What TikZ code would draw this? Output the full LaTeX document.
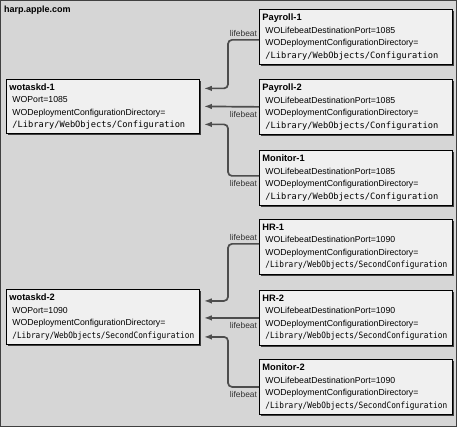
\documentclass[tikz,border=0pt]{standalone}
\usepackage{fontspec}
\setmainfont{Liberation Sans}
\setmonofont{DejaVu Sans Mono}
\newfontfamily\monocond[FakeStretch=0.89]{DejaVu Sans Mono}
\usetikzlibrary{positioning,calc,shadows,arrows.meta}

\definecolor{hostgray}{HTML}{D6D6D6}
\definecolor{boxgray}{HTML}{F0F0F0}
\definecolor{beatgray}{HTML}{4D4D4D}

\newcommand{\boxtitle}[1]{{\bfseries\fontsize{9.3}{12.5}\selectfont #1}}
\newcommand{\ind}{\hspace*{3pt}}

\tikzset{
	procbox/.style={draw=black, fill=boxgray, line width=0.8pt, anchor=north west,
		minimum width=193pt, minimum height=55pt, text width=187pt,
		inner xsep=3pt, inner ysep=2pt, align=left,
		font=\fontsize{8.7}{12.5}\selectfont,
		drop shadow={shadow xshift=2pt, shadow yshift=-2pt, fill=black!75, opacity=1}},
	beat/.style={-{Latex[length=8pt, width=5.5pt]}, draw=beatgray, line width=1.7pt, rounded corners=4pt},
	beatlabel/.style={font=\fontsize{8.4}{9}\selectfont, text=black!80, inner xsep=1.2pt, inner ysep=2pt},
	beatbelow/.style={beatlabel, anchor=north east, inner ysep=3.5pt}
}

\begin{document}
\begin{tikzpicture}[x=1pt, y=-1pt]
	\useasboundingbox (0, 0) rectangle (457, 427);
	\draw[fill=hostgray, draw=black!75, line width=1pt]	(0.5, 0.5) rectangle (456.5, 426.5);
	\node[anchor=base west, inner sep=0pt, font=\bfseries\fontsize{9}{10}\selectfont] (host) at (4, 12.5) {harp.apple.com};

	% wotaskd processes
	\node[procbox, minimum height=54pt] (wo1) at (6, 79) {\boxtitle{wotaskd-1}\\
		\ind WOPort=1085\\
		\ind WODeploymentConfigurationDirectory=\\
		\ind\texttt{/Library/WebObjects/Configuration}};
	\node[procbox] (wo2) at (6, 289) {\boxtitle{wotaskd-2}\\
		\ind WOPort=1090\\
		\ind WODeploymentConfigurationDirectory=\\
		\ind{\monocond /Library/WebObjects/SecondConfiguration}};

	% applications
	\node[procbox] (pay1) at (259, 9) {\boxtitle{Payroll-1}\\
		\ind WOLifebeatDestinationPort=1085\\
		\ind WODeploymentConfigurationDirectory=\\
		\ind\texttt{/Library/WebObjects/Configuration}};
	\node[procbox] (pay2) at (259, 79) {\boxtitle{Payroll-2}\\
		\ind WOLifebeatDestinationPort=1085\\
		\ind WODeploymentConfigurationDirectory=\\
		\ind\texttt{/Library/WebObjects/Configuration}};
	\node[procbox] (mon1) at (259, 150) {\boxtitle{Monitor-1}\\
		\ind WOLifebeatDestinationPort=1085\\
		\ind WODeploymentConfigurationDirectory=\\
		\ind\texttt{/Library/WebObjects/Configuration}};
	\node[procbox] (hr1) at (259, 219) {\boxtitle{HR-1}\\
		\ind WOLifebeatDestinationPort=1090\\
		\ind WODeploymentConfigurationDirectory=\\
		\ind{\monocond /Library/WebObjects/SecondConfiguration}};
	\node[procbox] (hr2) at (259, 290) {\boxtitle{HR-2}\\
		\ind WOLifebeatDestinationPort=1090\\
		\ind WODeploymentConfigurationDirectory=\\
		\ind{\monocond /Library/WebObjects/SecondConfiguration}};
	\node[procbox] (mon2) at (259, 359) {\boxtitle{Monitor-2}\\
		\ind WOLifebeatDestinationPort=1090\\
		\ind WODeploymentConfigurationDirectory=\\
		\ind{\monocond /Library/WebObjects/SecondConfiguration}};

	% lifebeat targets
	\coordinate (wo1a) at ($(wo1.east)+(4, -18)$);
	\coordinate (wo1b) at ($(wo1.east)+(4, 0)$);
	\coordinate (wo1c) at ($(wo1.east)+(4, 18)$);
	\coordinate (wo2a) at ($(wo2.east)+(4, -16)$);
	\coordinate (wo2b) at ($(wo2.east)+(4, 1)$);
	\coordinate (wo2c) at ($(wo2.east)+(4, 20)$);

	\draw[beat]	($(pay1.west)+(0, 3)$) node[beatlabel, anchor=south east]{lifebeat} -- ++(-31, 0) |- (wo1a);
	\draw[beat]	(pay2.west) node[beatbelow]{lifebeat} -- (wo1b);
	\draw[beat]	($(mon1.west)+(0, -2)$) node[beatbelow]{lifebeat} -- ++(-31, 0) |- (wo1c);
	\draw[beat]	($(hr1.west)+(0, -3)$) node[beatlabel, anchor=south east]{lifebeat} -- ++(-31, 0) |- (wo2a);
	\draw[beat]	(hr2.west) node[beatbelow]{lifebeat} -- (hr2.west -| wo2b);
	\draw[beat]	(mon2.west) node[beatbelow]{lifebeat} -- ++(-31, 0) |- (wo2c);
\end{tikzpicture}
\end{document}
